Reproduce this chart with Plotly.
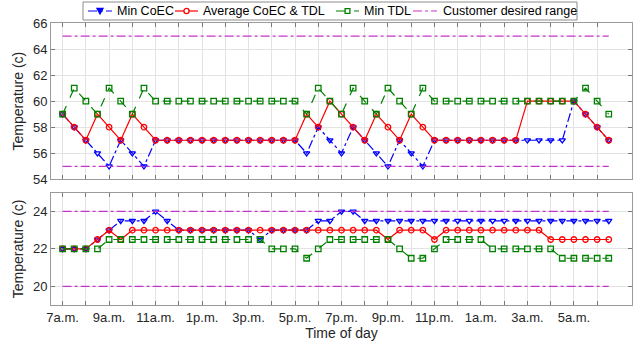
import plotly.graph_objects as go

# half-hour slots from 7 a.m. (1) to 6:30 a.m. next day (48)
slots = list(range(1, 49))
tick_labels = ["7a.m.", "9a.m.", "11a.m.", "1p.m.", "3p.m.", "5p.m.",
               "7p.m.", "9p.m.", "11p.m.", "1a.m.", "3a.m.", "5a.m."]

top_min_coec = [59, 58, 57, 56, 55, 57, 56, 55, 57,
                57, 57, 57, 57, 57, 57, 57, 57, 57, 57, 57, 57,
                56, 58, 57, 56, 58, 57, 56, 55, 57, 56, 55, 57,
                57, 57, 57, 57, 57, 57, 57, 57, 57, 57, 57,
                60, 59, 58, 57]
top_avg = [59, 58, 57, 59, 58, 57, 59, 58, 57,
           57, 57, 57, 57, 57, 57, 57, 57, 57, 57, 57, 57,
           59, 58, 60, 59, 58, 57, 59, 58, 57, 59, 58, 57,
           57, 57, 57, 57, 57, 57, 57,
           60, 60, 60, 60, 60,
           59, 58, 57]
top_min_tdl = [59, 61, 60, 59, 61, 60, 59, 61, 60,
               60, 60, 60, 60, 60, 60, 60, 60, 60, 60, 60, 60,
               59, 61, 60, 59, 61, 60, 59, 61, 60, 59, 61, 60,
               60, 60, 60, 60, 60, 60, 60, 60, 60, 60, 60, 60,
               61, 60, 59]
top_range = [55, 65]

bot_min_coec = [22, 22, 22, 22.5, 23, 23.5, 23.5, 23.5, 24, 23.5,
                23, 23, 23, 23, 23, 23, 23, 22.5, 23, 23, 23, 23,
                23.5, 23.5, 24, 24,
                23.5, 23.5, 23.5, 23.5, 23.5, 23.5, 23.5, 23.5, 23.5, 23.5, 23.5,
                23.5, 23.5, 23.5, 23.5, 23.5, 23.5, 23.5, 23.5, 23.5, 23.5, 23.5]
bot_avg = [22, 22, 22, 22.5, 23, 22.5,
           23, 23, 23, 23, 23, 23, 23, 23, 23, 23, 23, 23, 23, 23, 23, 23,
           23, 23, 23, 23, 23, 23,
           22.5, 23, 23, 23, 22.5,
           23, 23, 23, 23, 23, 23, 23, 23, 23,
           22.5, 22.5, 22.5, 22.5, 22.5, 22.5]
bot_min_tdl = [22, 22, 22, 22,
               22.5, 22.5, 22.5, 22.5, 22.5, 22.5, 22.5, 22.5, 22.5, 22.5, 22.5, 22.5, 22.5, 22.5,
               22, 22, 22, 21.5, 22,
               22.5, 22.5, 22.5, 22.5, 22.5, 22.5,
               22, 21.5, 21.5, 22,
               22.5, 22.5, 22.5, 22.5,
               22, 22, 22, 22, 22, 22,
               21.5, 21.5, 21.5, 21.5, 21.5]
bot_range = [20, 24]

series_names = ["Min CoEC", "Average CoEC & TDL", "Min TDL", "Customer desired range"]

BLUE = "#0000FF"
RED = "#FF0000"
GREEN = "#008000"
MAG = "#C832C8"
FONT = "Liberation Sans, Arial, sans-serif"

W, H = 635, 346
ML, MR, MT, MB = 51, 3, 23, 41
PW, PH = W - ML - MR, H - MT - MB


def px(xp):
    return (xp - ML) / PW


def py(yp):
    return (H - MB - yp) / PH


fig = go.Figure()

styles = [
    (BLUE, "dashdot", "triangle-down-open"),
    (RED, "solid", "circle-open"),
    (GREEN, "dash", "square-open"),
]


def add_series(y, xa, ya, k):
    color, dash, symbol = styles[k]
    fig.add_trace(go.Scatter(
        x=slots, y=y, xaxis=xa, yaxis=ya, name=series_names[k], mode="lines+markers",
        line=dict(color=color, width=1.2, dash=dash),
        marker=dict(symbol=symbol, size=5.5, color=color, line=dict(color=color, width=1.3)),
        showlegend=False))


def add_range(vals, xa, ya):
    xs, ys = [], []
    for v in vals:
        xs += slots + [None]
        ys += [v] * len(slots) + [None]
    fig.add_trace(go.Scatter(
        x=xs, y=ys, xaxis=xa, yaxis=ya, name=series_names[3], mode="lines",
        line=dict(color=MAG, width=1.2, dash="dashdot"), showlegend=False))


add_series(top_min_coec, "x", "y", 0)
add_series(top_avg, "x", "y", 1)
add_series(top_min_tdl, "x", "y", 2)
add_range(top_range, "x", "y")
add_series(bot_min_coec, "x2", "y2", 0)
add_series(bot_avg, "x2", "y2", 1)
add_series(bot_min_tdl, "x2", "y2", 2)
add_range(bot_range, "x2", "y2")

# ---- hand-drawn legend box (MATLAB style) ----
shapes = []
annotations = []
shapes.append(dict(type="rect", xref="paper", yref="paper",
                   x0=px(83), x1=px(577), y0=py(20), y1=py(2),
                   line=dict(color="#8C8C8C", width=1), fillcolor="white", layer="above"))
leg_line_x = [(88, 112), (175, 198), (336, 359), (413, 437)]
leg_text_x = [115, 201, 362, 441]
leg_colors = [BLUE, RED, GREEN, MAG]
leg_dash = ["dashdot", "solid", "dash", "dashdot"]
LY = 11
for k in range(4):
    x0, x1 = leg_line_x[k]
    shapes.append(dict(type="line", xref="paper", yref="paper",
                       x0=px(x0), x1=px(x1), y0=py(LY), y1=py(LY), layer="above",
                       line=dict(color=leg_colors[k], width=1.2, dash=leg_dash[k])))
    cx = (x0 + x1) / 2
    mk = dict(color=leg_colors[k], width=1.3)
    if k == 0:
        shapes.append(dict(type="path", xref="paper", yref="paper", layer="above",
                           path=f"M {px(cx-3)},{py(LY-2.5)} L {px(cx+3)},{py(LY-2.5)} L {px(cx)},{py(LY+3)} Z",
                           line=mk, fillcolor=BLUE))
    elif k == 1:
        shapes.append(dict(type="circle", xref="paper", yref="paper", layer="above",
                           x0=px(cx-2.6), x1=px(cx+2.6), y0=py(LY+2.6), y1=py(LY-2.6),
                           line=mk, fillcolor="white"))
    elif k == 2:
        shapes.append(dict(type="rect", xref="paper", yref="paper", layer="above",
                           x0=px(cx-2.4), x1=px(cx+2.4), y0=py(LY+2.4), y1=py(LY-2.4),
                           line=mk, fillcolor="white"))
    annotations.append(dict(text=series_names[k], xref="paper", yref="paper",
                            x=px(leg_text_x[k]), y=py(LY), xanchor="left", yanchor="middle",
                            showarrow=False, font=dict(size=12.5, color="#000000")))

tickvals = list(range(1, 48, 2))
ticktext = [tick_labels[i // 2] if i % 2 == 0 else "" for i in range(len(tickvals))]

common_x = dict(range=[0, 50], tickvals=tickvals, ticks="inside", ticklen=4,
                showgrid=True, gridcolor="#E3E3E3", gridwidth=1,
                showline=True, linecolor="#9A9A9A", linewidth=1, mirror="ticks",
                tickcolor="#7A7A7A", zeroline=False)
common_y = dict(ticks="inside", ticklen=4, showgrid=True, gridcolor="#E3E3E3",
                showline=True, linecolor="#9A9A9A", linewidth=1, mirror="ticks",
                tickcolor="#7A7A7A", zeroline=False,
                title=dict(text="Temperature (c)", font=dict(size=14, color="#262626"), standoff=6))

fig.update_layout(
    width=W, height=H,
    margin=dict(l=ML, r=MR, t=MT, b=MB, autoexpand=False),
    paper_bgcolor="white", plot_bgcolor="white",
    font=dict(family=FONT, size=13, color="#262626"),
    showlegend=False,
    shapes=shapes, annotations=annotations,
    xaxis=dict(common_x, domain=[0, 1], anchor="y", showticklabels=False, ticktext=ticktext),
    yaxis=dict(common_y, domain=[0.4457, 1], range=[54, 66], tickvals=[54, 56, 58, 60, 62, 64, 66]),
    xaxis2=dict(common_x, domain=[0, 1], anchor="y2", ticktext=ticktext,
                title=dict(text="Time of day", font=dict(size=14, color="#262626"), standoff=0)),
    yaxis2=dict(common_y, domain=[0, 0.398], range=[19, 25], tickvals=[20, 22, 24]),
)

fig.write_html("out.html", config={"displayModeBar": False},
               post_script="document.body.style.margin='0';")
